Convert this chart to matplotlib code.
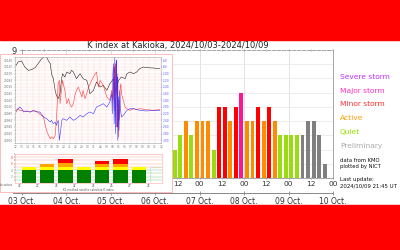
import matplotlib
matplotlib.use("Agg")
import matplotlib.pyplot as plt
import matplotlib.dates as mdates
from matplotlib.patches import Rectangle
from matplotlib.ticker import MultipleLocator, FuncFormatter, FixedLocator
from datetime import datetime
import pandas as pd

# ---------------- data ----------------
title = "K index at Kakioka, 2024/10/03-2024/10/09"
k_first_start = "2024-10-06 06:00"
k_values = [3, 2, 3, 4, 3, 4,
            4, 4, 2, 5, 5, 4, 5, 6,
            4, 4, 5, 4, 5, 4, 3, 3,
            3, 3, 3, 4, 4, 3, 1]
k_final = [True] * 24 + [False] * 5
hour_labels_from = datetime(2024, 10, 6, 12)

legend_labels = ["Severe storm", "Major storm", "Minor storm", "Active", "Quiet", "Preliminary"]
legend_colors = ["#c030ff", "#ff30c0", "#ff3030", "#ff9a00", "#99e000", "#aaaaaa"]
info_lines = ["data from KMO", "plotted by NICT"]
update_lines = ["Last update:", "2024/10/09 21:45 UT"]

# magnetogram thumbnail (hours, nT)
mag_black_t = [0.2, 0.5, 1.1, 1.6, 2.2, 2.7, 3.3, 3.8, 4.4, 4.9, 5.2, 5.5, 5.8, 6.0, 6.3, 6.6, 6.8, 7.1, 7.4, 7.6,
               7.8, 8.2, 8.5, 9.0, 9.3, 9.6, 10.1, 10.7, 11.2, 11.8, 12.1, 12.3, 12.9, 13.4, 14.0, 14.5, 15.1, 15.6,
               16.2, 16.4, 16.7, 17.0, 17.5, 18.1, 18.4, 18.9, 19.5, 20.0, 20.5, 21.1, 21.6, 22.7, 23.8]
mag_black_v = [125, 135, 138, 120, 110, 112, 118, 130, 145, 152, 150, 138, 130, 100, 85, 50, 35, 25, 40, 75,
               100, 90, 105, 100, 110, 105, 85, 100, 85, 80, 60, 40, 50, 75, 60, 65, 50, 70,
               85, 55, 50, 80, 90, 85, 100, 105, 100, 105, 115, 120, 118, 117, 115]
mag_red_t = [0.2, 0.5, 0.8, 1.4, 1.9, 2.5, 3.0, 3.6, 4.1, 4.7, 4.9, 5.2, 5.5, 5.8, 6.0, 6.3, 6.6, 6.8, 7.1, 7.3,
             7.4, 7.7, 7.8, 8.2, 8.5, 8.8, 9.0, 9.3, 9.6, 9.9, 10.4, 11.0, 11.2, 11.5, 11.8, 12.1, 12.6, 13.2,
             13.4, 13.7, 14.0, 14.5, 15.1, 15.6, 15.9, 16.1, 16.2, 16.3, 16.35, 16.4, 16.5, 16.55, 16.6, 16.7,
             16.75, 16.8, 16.9, 17.0, 17.1, 17.2, 17.3, 17.4, 17.5, 17.8, 18.1, 18.4, 18.9, 19.5, 20.0, 20.5,
             21.6, 22.7, 23.8]
mag_red_v = [-15, -5, -10, -12, -13, -15, -12, -13, -22, -30, -50, -70, -85, -95, -90, -95, -85, -40, 70, 80,
             10, 60, 80, 50, 10, 25, 10, 0, 10, 40, 60, 30, 50, 25, 40, 60, 80, 100,
             105, 60, 80, 65, 30, 20, 50, 20, 90, -10, 110, 120, -30, 130, 40, 140,
             -60, 0, 100, -90, 20, -40, 60, 70, 40, 20, 0, -5, -10, -5, -8, -5,
             -8, -10, -8]
mag_blue_t = [0.2, 0.5, 0.8, 1.1, 1.4, 1.9, 2.5, 3.0, 3.6, 4.1, 4.7, 5.2, 5.8, 6.0, 6.3, 6.6, 6.8, 7.1, 7.3, 7.5,
              7.7, 7.9, 8.5, 9.0, 9.6, 10.1, 10.7, 11.2, 11.8, 12.3, 12.9, 13.4, 14.0, 14.5, 15.1, 15.6,
              15.9, 16.0, 16.1, 16.2, 16.3, 16.4, 16.45, 16.5, 16.6, 16.65, 16.7, 16.8, 16.85, 16.9, 17.0,
              17.1, 17.2, 17.3, 17.5, 17.8, 18.4, 18.9, 19.5, 20.5, 21.6, 22.7, 23.8]
mag_blue_v = [-10, -5, 0, -5, -15, -12, -15, -10, -15, -15, -30, -35, -45, -40, -50, -45, -55, -40, -100, -70,
              -40, -35, -40, -30, -40, -35, -25, -30, -20, -15, -20, 0, 5, 10, 0, 15,
              40, -20, 100, 130, -50, 150, 20, -80, 60, 140, 120, -60, 90, -100, 30,
              -70, 50, 0, -30, -25, -10, -5, -5, -10, -12, -10, -10]

# daily K summary bars of the thumbnail
mini_green = [4, 4, 4, 4, 4, 4, 4]
mini_yellow = [1, 1, 1, 1, 1, 1, 1]
mini_orange = [0, 1, 1.2, 0, 0.8, 1, 0]
mini_red = [0, 0, 1.4, 0, 1.1, 1.6, 0]
mini_labels = ["21", "22", "23", "24", "25", "26", "27", "28"]

# ---------------- figure ----------------
W, H = 400, 250
fig = plt.figure(figsize=(4, 2.5), dpi=100, facecolor="white")


def fx(px):
    return px / W


def fy(py):
    return 1 - py / H


fig.add_artist(Rectangle((0, fy(40)), 1, 40 / H, transform=fig.transFigure, color="#ff0000", zorder=0))
fig.add_artist(Rectangle((0, 0), 1, fy(205), transform=fig.transFigure, color="#ff0000", zorder=0))

x0, x1 = datetime(2024, 10, 3), datetime(2024, 10, 10)

ax = fig.add_axes([fx(22), fy(178), fx(333 - 22), (178 - 50) / H])
times = pd.date_range(k_first_start, periods=len(k_values), freq="3h")
centers = (times + pd.Timedelta(hours=1.5)).to_pydatetime()


def kcolor(k, final):
    if not final:
        return "#808080"
    if k >= 7:
        return "#b000ff"
    if k == 6:
        return "#ff1493"
    if k == 5:
        return "#ff0000"
    if k == 4:
        return "#ff8c00"
    return "#99dd11"


colors = [kcolor(k, f) for k, f in zip(k_values, k_final)]
ax.bar(centers, k_values, width=0.088, color=colors, zorder=3)
ax.set_xlim(x0, x1)
ax.set_ylim(0, 9)
ax.set_yticks(range(10))
ax.set_yticklabels(["" if v < 9 else str(v) for v in range(10)])
cut = mdates.date2num(hour_labels_from)
ax.xaxis.set_major_locator(mdates.HourLocator(byhour=[0, 12]))
ax.xaxis.set_major_formatter(FuncFormatter(
    lambda v, p: mdates.num2date(v).strftime("%H") if v >= cut - 1e-6 else ""))
ax.xaxis.set_minor_locator(mdates.DayLocator())
ax.xaxis.remove_overlapping_locs = False
ax.tick_params(axis="x", which="major", labelsize=5.3, colors="#888888", labelcolor="#333333",
               length=2, width=0.5, pad=1.5, top=True, direction="inout")
ax.tick_params(axis="x", which="minor", length=0)
ax.tick_params(axis="y", labelsize=6, colors="#888888", labelcolor="#333333", length=2, width=0.5, pad=2)
ax.grid(axis="y", color="#e6e6e6", lw=0.5, zorder=0)
ax.grid(axis="x", which="minor", color="#d8d8d8", lw=0.5, zorder=0)
for s in ["left", "right", "bottom"]:
    ax.spines[s].set_color("#999999")
    ax.spines[s].set_linewidth(0.6)
ax.spines["top"].set_color("#999999")
ax.spines["top"].set_linewidth(0.6)
ax.spines["top"].set_linestyle((0, (4, 2)))
ax.set_title(title, fontsize=6, color="#222222", pad=1.5)

# date axis
axd = fig.add_axes([fx(13), fy(193), fx(333 - 13), 0.0001])
axd.set_xlim(datetime(2024, 10, 2, 19, 8), x1)
axd.set_facecolor("none")
for s in ["left", "right", "top"]:
    axd.spines[s].set_visible(False)
axd.spines["bottom"].set_color("#888888")
axd.spines["bottom"].set_linewidth(0.7)
axd.set_yticks([])
axd.xaxis.set_major_locator(mdates.DayLocator())
axd.xaxis.set_major_formatter(mdates.DateFormatter("%d Oct."))
axd.tick_params(axis="x", labelsize=5.5, colors="#888888", labelcolor="#333333",
                length=2.5, width=0.6, direction="inout", pad=1.5)

# legend texts
ly = [77, 91, 104.5, 118.5, 132, 146]
for lab, col, yy in zip(legend_labels, legend_colors, ly):
    fig.text(fx(340), fy(yy), lab, color=col, fontsize=5.4, va="center", ha="left")
for t, yy in zip(info_lines, [161, 166.5]):
    fig.text(fx(340), fy(yy), t, color="#111111", fontsize=3.8, va="center", ha="left")
for t, yy in zip(update_lines, [179, 185.5]):
    fig.text(fx(340), fy(yy), t, color="#111111", fontsize=3.9, va="center", ha="left")

# ---------------- thumbnail (covers left part) ----------------
fig.add_artist(Rectangle((0, fy(192)), fx(172), (192 - 54) / H, transform=fig.transFigure,
                         facecolor="white", edgecolor="#ffb0b0", lw=0.6, zorder=1.5))

axm = fig.add_axes([fx(15), fy(143), fx(146), 86 / H])
axm.set_zorder(3)
axm.plot(mag_black_t, mag_black_v, color="#222222", lw=0.4)
axm.plot(mag_red_t, mag_red_v, color="#ff2a2a", lw=0.45, alpha=0.85)
axm.plot(mag_blue_t, mag_blue_v, color="#2a2aff", lw=0.45, alpha=0.85)
axm.set_xlim(0, 24)
axm.set_ylim(-108, 150)
axm.xaxis.set_major_locator(MultipleLocator(1))
axm.yaxis.set_major_locator(MultipleLocator(20))
axm.yaxis.set_minor_locator(MultipleLocator(10))
axm.xaxis.set_major_formatter(FuncFormatter(lambda v, p: f"{(int(v) + 12) % 24:02d}"))
axm.yaxis.set_major_formatter(FuncFormatter(lambda v, p: f"{29000 + v:.0f}"))
axm.tick_params(labelsize=2.1, colors="#777777", length=0.8, width=0.3, pad=0.8)
axm.tick_params(which="minor", length=0.5, width=0.3)
axm.grid(which="both", color="#ffd0d0", lw=0.3)
for s in axm.spines.values():
    s.set_color("#aaaaaa")
    s.set_linewidth(0.4)
axm2 = axm.twinx()
axm2.set_ylim(-108, 150)
axm2.yaxis.set_major_locator(MultipleLocator(20))
axm2.yaxis.set_major_formatter(FuncFormatter(lambda v, p: f"{v - 200:.0f}"))
axm2.tick_params(labelsize=2.1, colors="#5555ff", length=0.8, width=0.3, pad=0.8)
for s in axm2.spines.values():
    s.set_visible(False)
axm2.set_zorder(3)

axk = fig.add_axes([fx(15), fy(183), fx(147), 29 / H])
axk.set_zorder(3)
xs = list(range(len(mini_green)))
b1 = [g + y for g, y in zip(mini_green, mini_yellow)]
b2 = [a + o for a, o in zip(b1, mini_orange)]
axk.bar(xs, mini_green, width=0.78, color="#008000", zorder=3)
axk.bar(xs, mini_yellow, bottom=mini_green, width=0.78, color="#ffff00", zorder=3)
axk.bar(xs, mini_orange, bottom=b1, width=0.78, color="#ffa500", zorder=3)
axk.bar(xs, mini_red, bottom=b2, width=0.78, color="#ff0000", zorder=3)
axk.bar([len(xs)], [5], width=0.78, facecolor="none", edgecolor="#99cc99", lw=0.4, ls=(0, (2, 1)), zorder=3)
axk.set_xlim(-0.75, 7.25)
axk.set_ylim(0, 9)
axk.set_yticks(range(1, 10))
lvl_cols = ["#88cc88"] * 4 + ["#ffaaaa"] * 5
axk.set_yticklabels([str(v) if v % 2 == 0 else "" for v in range(1, 10)], fontsize=2.2)
for tl, c in zip(axk.get_yticklabels(), ["#44aa44"] * 4 + ["#ee8800", "#ee6600", "#ff3333", "#ff3333", "#ff3333"]):
    tl.set_color(c)
axk.grid(axis="y", lw=0.35)
for tk, c in zip(axk.yaxis.get_major_ticks(), lvl_cols):
    tk.gridline.set_color(c)
axk.xaxis.set_major_locator(FixedLocator([i - 0.5 for i in range(len(mini_labels))]))
axk.set_xticklabels(mini_labels, fontsize=2.0, color="#555555")
axk.tick_params(axis="x", length=0.6, width=0.3, pad=0.3)
axk.tick_params(axis="y", length=0.8, width=0.3, pad=0.8)
for s in axk.spines.values():
    s.set_color("#ffaaaa")
    s.set_linewidth(0.4)
fig.text(fx(6), fy(184.5), "No values", fontsize=1.9, color="#555555", ha="center", va="center", zorder=4)
fig.text(fx(88), fy(190.3), "K1 method used to calculate K index", fontsize=2.0, color="#555555",
         ha="center", va="center", zorder=4)

fig.savefig("out.png", dpi=100, facecolor="white")
